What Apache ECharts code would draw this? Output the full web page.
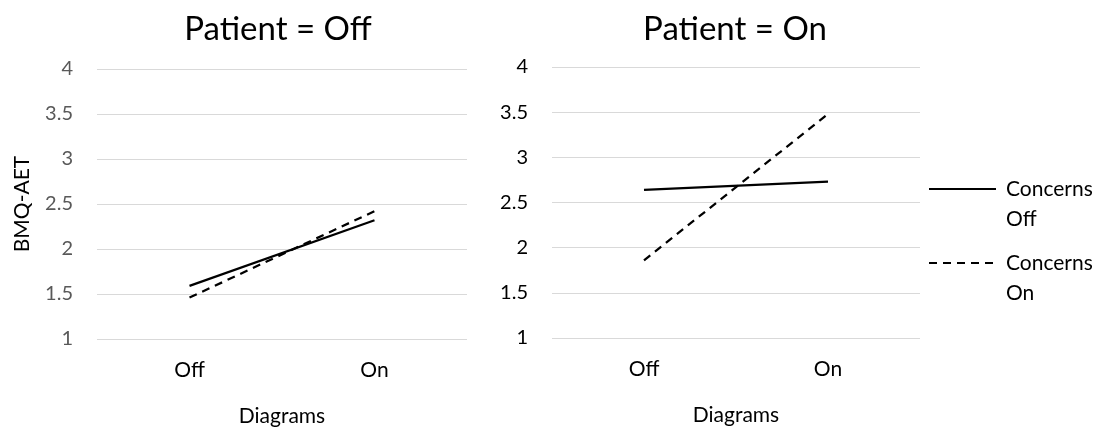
<!DOCTYPE html>
<html>
<head>
<meta charset="utf-8">
<script src="https://cdn.jsdelivr.net/npm/echarts@6/dist/echarts.min.js"></script>
<style>
  html, body { margin: 0; padding: 0; background: #fff; }
  #main { width: 1093px; height: 432px; }
</style>
</head>
<body>
<div id="main"></div>
<script>
  // categories and values
  const diagrams = ['Off', 'On'];
  const yTicks = [1, 1.5, 2, 2.5, 3, 3.5, 4];
  const panelTitles = ['Patient = Off', 'Patient = On'];
  const seriesNames = ['Concerns Off', 'Concerns On'];

  // Patient = Off
  const offConcernsOff = [1.59, 2.32];
  const offConcernsOn = [1.46, 2.42];
  // Patient = On
  const onConcernsOff = [2.64, 2.73];
  const onConcernsOn = [1.86, 3.48];

  const font = 'Lato, "Open Sans", sans-serif';
  const chart = echarts.init(document.getElementById('main'));

  function yAxis(gridIndex, labelColor, name) {
    return {
      type: 'value',
      gridIndex: gridIndex,
      min: yTicks[0],
      max: yTicks[yTicks.length - 1],
      interval: 0.5,
      name: name || '',
      nameLocation: 'middle',
      nameGap: 64,
      nameTextStyle: { color: '#000', fontSize: 21, fontFamily: font },
      axisLine: { show: false },
      axisTick: { show: false },
      axisLabel: { color: labelColor, fontSize: 20, fontFamily: font, margin: 24 },
      splitLine: { lineStyle: { color: '#d9d9d9', width: 1 } }
    };
  }

  function xAxis(gridIndex, gap) {
    return {
      type: 'category',
      gridIndex: gridIndex,
      data: diagrams,
      boundaryGap: true,
      name: 'Diagrams',
      nameLocation: 'middle',
      nameGap: gap,
      nameTextStyle: { color: '#000', fontSize: 21, fontFamily: font, verticalAlign: 'top' },
      axisLine: { show: false },
      axisTick: { show: false },
      axisLabel: { color: '#000', fontSize: 21, fontFamily: font, margin: 21 }
    };
  }

  function line(name, data, idx, dashed) {
    return {
      name: name,
      type: 'line',
      xAxisIndex: idx,
      yAxisIndex: idx,
      data: data,
      symbol: 'none',
      silent: true,
      lineStyle: { color: '#000', width: 2.25, type: dashed ? [8, 6] : 'solid' },
      itemStyle: { color: '#000' }
    };
  }

  // one legend per entry; a blank first line puts "Concerns" level with the icon
  function legend(name, top) {
    return {
      orient: 'vertical',
      left: 923,
      top: top,
      itemWidth: 67,
      itemHeight: 14,
      data: [name],
      selectedMode: false,
      itemStyle: { opacity: 0 },
      formatter: function (n) { return ' \n' + n.replace(' ', '\n'); },
      textStyle: { color: '#000', fontSize: 21, fontFamily: font, lineHeight: 30, padding: [0, 0, 0, 5] }
    };
  }

  const option = {
    animation: false,
    backgroundColor: '#fff',
    title: [
      {
        text: panelTitles[0], left: 273, top: 8, textAlign: 'center',
        textStyle: { fontSize: 33, fontWeight: 'normal', color: '#000', fontFamily: font }
      },
      {
        text: panelTitles[1], left: 730, top: 8, textAlign: 'center',
        textStyle: { fontSize: 33, fontWeight: 'normal', color: '#000', fontFamily: font }
      }
    ],
    legend: [legend(seriesNames[0], 139), legend(seriesNames[1], 213)],
    grid: [
      { left: 97, right: 626, top: 69, bottom: 91 },
      { left: 552, right: 173, top: 67, bottom: 94 }
    ],
    xAxis: [xAxis(0, 67), xAxis(1, 67)],
    yAxis: [yAxis(0, '#595959', 'BMQ-AET'), yAxis(1, '#000')],
    series: [
      line(seriesNames[0], offConcernsOff, 0, false),
      line(seriesNames[1], offConcernsOn, 0, true),
      line(seriesNames[0], onConcernsOff, 1, false),
      line(seriesNames[1], onConcernsOn, 1, true)
    ]
  };

  chart.setOption(option);
</script>
</body>
</html>
